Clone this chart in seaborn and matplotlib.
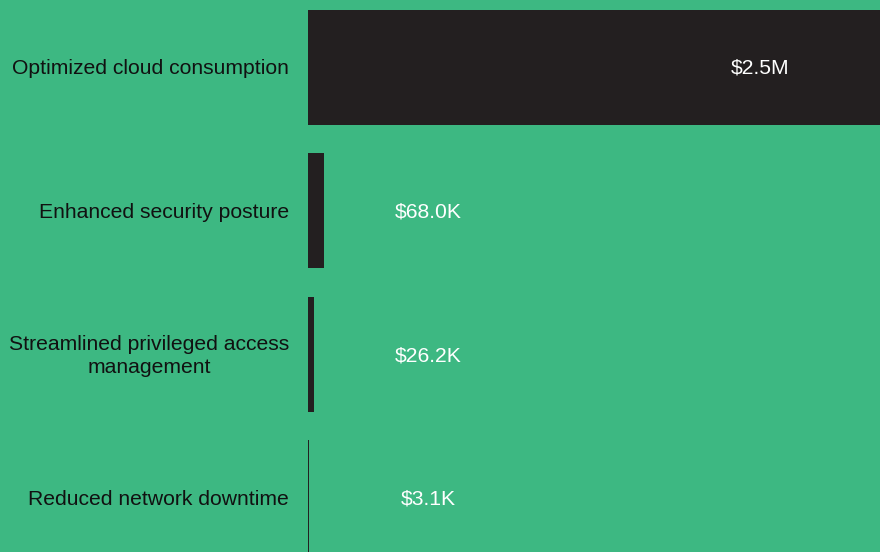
import matplotlib

matplotlib.use("Agg")
import matplotlib.pyplot as plt
import pandas as pd
import seaborn as sns

# Data
categories = [
    "Optimized cloud consumption",
    "Enhanced security posture",
    "Streamlined privileged access\nmanagement",
    "Reduced network downtime",
]
values = [2_500_000, 68_000, 26_200, 3_100]
value_labels = ["$2.5M", "$68.0K", "$26.2K", "$3.1K"]

BG = "#3db882"
BAR = "#231f20"
FS = 15.2

df = pd.DataFrame({"category": categories, "value": values})

sns.set_theme(style="white")
plt.rcParams["font.family"] = ["Liberation Sans", "DejaVu Sans"]

fig = plt.figure(figsize=(8.8, 5.52), dpi=100, facecolor=BG)
# axes spans a bit past the figure so the last bar is clipped like the original
ax = fig.add_axes([308 / 880, -17.75 / 552, 572 / 880, 574.5 / 552])
ax.set_facecolor(BG)

sns.barplot(data=df, x="value", y="category", color=BAR, width=0.8,
            saturation=1, linewidth=0, ax=ax)

xmax = max(values)
ax.set_xlim(0, xmax)
ax.set_ylim(3.5, -0.5)

nudge = 0.01  # text sits a touch lower than the bar centre
offset = xmax * 120 / 572
for i, (v, lab) in enumerate(zip(values, value_labels)):
    x = v - offset if v > 2 * offset else offset
    ax.text(x, i + nudge, lab, color="white", fontsize=FS,
            ha="center", va="center")

for i, cat in enumerate(categories):
    ax.text(-19 / 572 * xmax, i + nudge, cat, color="#111111", fontsize=FS,
            ha="right", va="center", multialignment="center",
            linespacing=1.25)

ax.set_yticks([])
ax.set_xticks([])
ax.set_xlabel("")
ax.set_ylabel("")
sns.despine(ax=ax, left=True, bottom=True)

fig.savefig("out.png", dpi=100, facecolor=BG)
